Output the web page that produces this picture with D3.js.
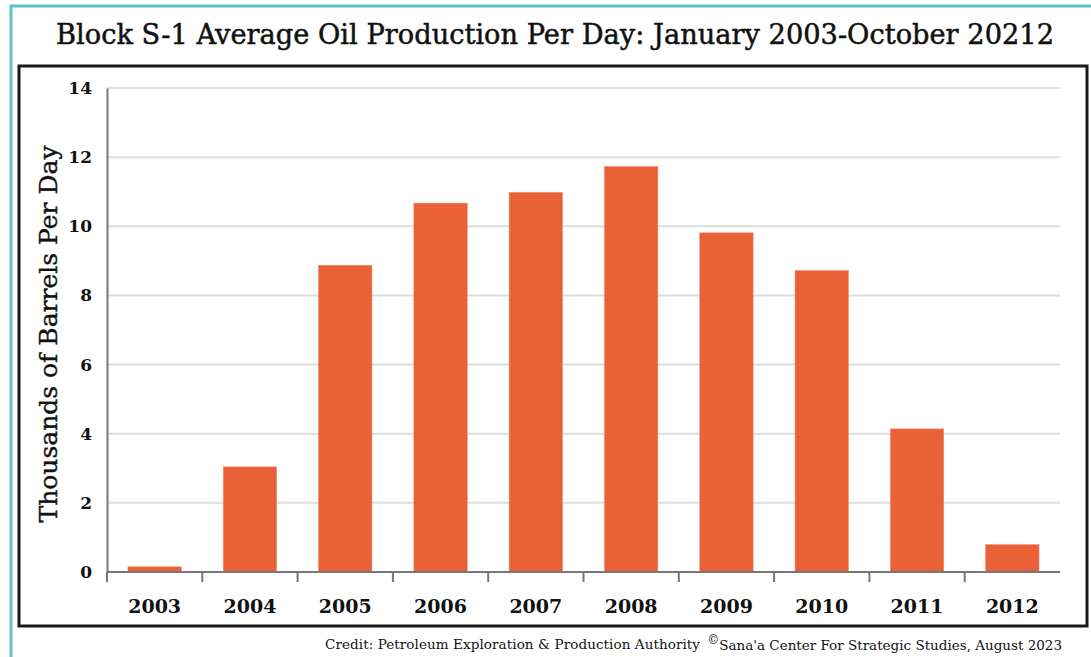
<!DOCTYPE html>
<html>
<head>
<meta charset="utf-8">
<script src="https://cdn.jsdelivr.net/npm/d3@7"></script>
<style>
  body { margin: 0; background: #fff; }
  svg text { font-family: "DejaVu Serif", "Liberation Serif", serif; fill: #111; }
</style>
</head>
<body>
<div id="chart"></div>
<script>
const years = ['2003', '2004', '2005', '2006', '2007', '2008', '2009', '2010', '2011', '2012'];
const barrels = [0.15, 3.04, 8.87, 10.67, 10.98, 11.73, 9.81, 8.72, 4.14, 0.79];
const yTicks = [0, 2, 4, 6, 8, 10, 12, 14];

const width = 1091, height = 657;
const margin = { top: 88, right: 31, bottom: 85, left: 107 };

const svg = d3.select('#chart')
  .append('svg')
  .attr('width', width)
  .attr('height', height);

// teal frame, clipped at right and bottom
svg.append('path')
  .attr('d', `M11,${height} L11,6 L${width},6`)
  .attr('fill', 'none')
  .attr('stroke', '#5fc0c7')
  .attr('stroke-width', 3);

// black plot box
svg.append('rect')
  .attr('x', 19).attr('y', 66)
  .attr('width', 1068).attr('height', 560)
  .attr('fill', 'none')
  .attr('stroke', '#1a1a1a')
  .attr('stroke-width', 3);

svg.append('text')
  .attr('x', 555).attr('y', 44)
  .attr('text-anchor', 'middle')
  .attr('textLength', 998)
  .attr('lengthAdjust', 'spacingAndGlyphs')
  .style('font-size', '27px')
  .style('stroke', '#111')
  .style('stroke-width', 0.5)
  .text('Block S-1 Average Oil Production Per Day: January 2003-October 20212');

const plotW = width - margin.left - margin.right;
const plotH = height - margin.top - margin.bottom;

const g = svg.append('g')
  .attr('transform', `translate(${margin.left}, ${margin.top})`);

const yScale = d3.scaleLinear().domain([0, 14]).range([plotH, 0]);
const xScale = d3.scaleBand().domain(years).range([0, plotW]).padding(0);
const barScale = d3.scaleBand().domain(years).range([0, plotW])
  .paddingInner(0.44).paddingOuter(0.22);

// gridlines
g.append('g')
  .selectAll('line')
  .data(yTicks.filter(d => d > 0))
  .enter()
  .append('line')
  .attr('x1', 0).attr('x2', plotW)
  .attr('y1', d => yScale(d)).attr('y2', d => yScale(d))
  .attr('stroke', '#dddddd')
  .attr('stroke-width', 2);

g.selectAll('rect.bar')
  .data(barrels)
  .enter()
  .append('rect')
  .attr('class', 'bar')
  .attr('x', (d, i) => barScale(years[i]))
  .attr('y', d => yScale(d))
  .attr('width', barScale.bandwidth())
  .attr('height', d => plotH - yScale(d))
  .attr('fill', '#e96137')
  .attr('stroke', '#f08a6a')
  .attr('stroke-width', 0.6);

// y axis
const yAxis = d3.axisLeft(yScale).tickValues(yTicks).tickSize(0).tickPadding(15);
const yg = g.append('g').call(yAxis);
yg.select('.domain').attr('stroke', '#777').attr('stroke-width', 2);
yg.selectAll('text')
  .style('font-family', '"DejaVu Serif", serif')
  .style('font-size', '17px').style('font-weight', 'bold');

// x axis with ticks at band boundaries
g.append('line')
  .attr('x1', 0).attr('x2', plotW)
  .attr('y1', plotH).attr('y2', plotH)
  .attr('stroke', '#777').attr('stroke-width', 2);

g.append('g')
  .selectAll('line')
  .data(years)
  .enter()
  .append('line')
  .attr('x1', d => xScale(d)).attr('x2', d => xScale(d))
  .attr('y1', plotH).attr('y2', plotH + 10)
  .attr('stroke', '#777').attr('stroke-width', 2);

g.append('g')
  .selectAll('text')
  .data(years)
  .enter()
  .append('text')
  .attr('x', d => xScale(d) + xScale.bandwidth() / 2)
  .attr('y', plotH + 41)
  .attr('text-anchor', 'middle')
  .style('font-size', '19px')
  .style('font-weight', 'bold')
  .text(d => d);

svg.append('text')
  .attr('transform', `translate(57, ${margin.top + plotH / 2 + 4}) rotate(-90)`)
  .attr('text-anchor', 'middle')
  .style('font-size', '25px')
  .style('stroke', '#111')
  .style('stroke-width', 0.4)
  .text('Thousands of Barrels Per Day');

svg.append('text')
  .attr('x', 700).attr('y', 649)
  .attr('text-anchor', 'end')
  .attr('textLength', 375)
  .style('font-family', '"DejaVu Serif", serif')
  .style('font-size', '13.5px')
  .text('Credit: Petroleum Exploration & Production Authority');

const cr = svg.append('text')
  .attr('x', 1062).attr('y', 650)
  .attr('text-anchor', 'end')
  .style('font-family', '"DejaVu Serif", serif')
  .style('font-size', '13.5px');
cr.append('tspan').attr('dy', -6).style('font-size', '12px').text('©');
cr.append('tspan').attr('dy', 6).text("Sana'a Center For Strategic Studies, August 2023");
</script>
</body>
</html>
